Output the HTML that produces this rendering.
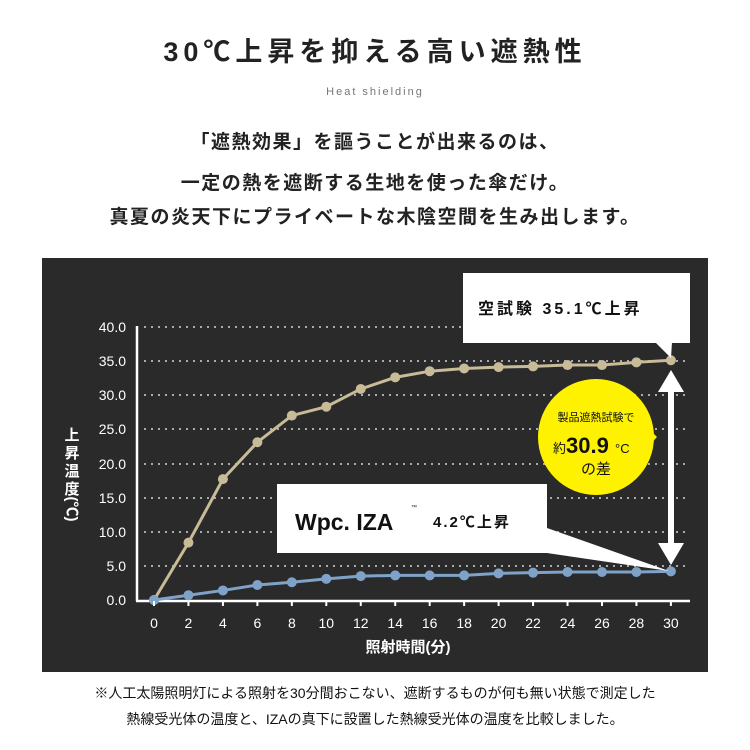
<!DOCTYPE html><html><head><meta charset="utf-8"><style>
body{margin:0;width:750px;height:750px;background:#fff;font-family:"Liberation Sans","Noto Sans CJK JP",sans-serif;position:relative;overflow:hidden;color:#222}
.t{position:absolute;left:0;width:750px;text-align:center;white-space:nowrap}
</style></head><body>
<div class="t" style="top:30px;font-size:27px;letter-spacing:5px;font-weight:bold">30℃上昇を抑える高い遮熱性</div>
<div class="t" style="top:86px;font-size:11px;letter-spacing:2px;color:#777">Heat shielding</div>
<div class="t" style="top:127px;font-size:19px;font-weight:bold;letter-spacing:1.5px">「遮熱効果」を謳うことが出来るのは、</div>
<div class="t" style="top:168px;font-size:19px;font-weight:bold;letter-spacing:1.5px">一定の熱を遮断する生地を使った傘だけ。</div>
<div class="t" style="top:202px;font-size:19px;font-weight:bold;letter-spacing:1.5px">真夏の炎天下にプライベートな木陰空間を生み出します。</div>
<svg style="position:absolute;left:0;top:0" width="750" height="750">
<rect x="42" y="258" width="666" height="414" fill="#2b2a2a"/>
<g stroke="#aaa" stroke-width="2" stroke-dasharray="2,5">
<line x1="144" y1="327" x2="690" y2="327"/><line x1="144" y1="361" x2="690" y2="361"/><line x1="144" y1="395" x2="690" y2="395"/><line x1="144" y1="429" x2="690" y2="429"/><line x1="144" y1="464" x2="690" y2="464"/><line x1="144" y1="498" x2="690" y2="498"/><line x1="144" y1="532" x2="690" y2="532"/><line x1="144" y1="566" x2="690" y2="566"/></g>
<g stroke="#fff" stroke-width="2.5"><line x1="137" y1="326" x2="137" y2="601"/><line x1="136" y1="601" x2="690" y2="601"/></g>
<g fill="#fff" font-size="14" text-anchor="end">
<text x="126" y="332">40.0</text><text x="126" y="366">35.0</text><text x="126" y="400">30.0</text><text x="126" y="434">25.0</text><text x="126" y="469">20.0</text><text x="126" y="503">15.0</text><text x="126" y="537">10.0</text><text x="126" y="571">5.0</text><text x="126" y="605">0.0</text></g>
<g fill="#fff" font-size="14" text-anchor="middle" id="xl"></g>
<text x="408" y="652" fill="#fff" font-size="15" font-weight="bold" text-anchor="middle">照射時間(分)</text>
<g fill="#fff" font-size="15" font-weight="bold" text-anchor="middle"><text x="72" y="440">上</text><text x="72" y="458">昇</text><text x="72" y="476">温</text><text x="72" y="494">度</text><text x="72" y="514" transform="rotate(90 72 509)">(℃)</text></g>
<polyline id="tan" fill="none" stroke="#c8bb98" stroke-width="3"/><g id="tanp" fill="#c8bb98"></g>
<polyline id="blu" fill="none" stroke="#7fa3c8" stroke-width="3"/><g id="blup" fill="#7fa3c8"></g>
<rect x="463" y="273" width="227" height="70" fill="#fff"/><polygon points="655,342 672,342 671,358" fill="#fff"/>
<text x="478" y="314" font-size="16" font-weight="bold" fill="#111" letter-spacing="3">空試験 35.1℃上昇</text>
<rect x="277" y="484" width="270" height="69" fill="#fff"/><polygon points="547,528 547,553 669,571" fill="#fff"/>
<text x="295" y="530" font-size="23" font-weight="bold" fill="#111">Wpc. IZA</text><text x="411" y="509" font-size="6" fill="#111">™</text>
<text x="433" y="527" font-size="15" font-weight="bold" fill="#111" letter-spacing="2">4.2℃上昇</text>
<circle cx="596" cy="437" r="58" fill="#fff200"/><polygon points="645,425 657,437 645,450" fill="#fff200"/>
<text x="596" y="421" font-size="11" fill="#111" text-anchor="middle">製品遮熱試験で</text>
<text x="553" y="453" font-size="13" fill="#111">約</text><text x="566" y="453" font-size="22" font-weight="bold" fill="#111">30.9</text><text x="615" y="453" font-size="13" fill="#111">°C</text>
<text x="596" y="474" font-size="15" fill="#111" text-anchor="middle">の差</text>
<rect x="668" y="390" width="6" height="155" fill="#fff"/>
<polygon points="658,392 671,370 684,392" fill="#fff"/><polygon points="658,543 671,565 684,543" fill="#fff"/>
</svg>
<div class="t" style="top:683px;font-size:14px;color:#111">※人工太陽照明灯による照射を30分間おこない、遮断するものが何も無い状態で測定した</div>
<div class="t" style="top:709px;font-size:14px;color:#111">熱線受光体の温度と、IZAの真下に設置した熱線受光体の温度を比較しました。</div>
<script>
var ns="http://www.w3.org/2000/svg";
function X(t){return 154+t*17.23}function Y(v){return 600-v*6.83}
var T=[0,8.4,17.7,23.1,27,28.3,30.9,32.6,33.5,33.9,34.1,34.2,34.4,34.4,34.8,35.1];
var B=[0,0.7,1.4,2.2,2.6,3.1,3.5,3.6,3.6,3.6,3.9,4,4.1,4.1,4.1,4.2];
function draw(d,l,g){var p=[];d.forEach(function(v,i){var x=X(i*2),y=Y(v);p.push(x+","+y);var c=document.createElementNS(ns,"circle");c.setAttribute("cx",x);c.setAttribute("cy",y);c.setAttribute("r",5);document.getElementById(g).appendChild(c)});document.getElementById(l).setAttribute("points",p.join(" "))}
draw(T,"tan","tanp");draw(B,"blu","blup");
var xl=document.getElementById("xl"),ax=document.querySelector("svg");
for(var i=0;i<=30;i+=2){var t=document.createElementNS(ns,"text");t.setAttribute("x",X(i));t.setAttribute("y",628);t.textContent=i;xl.appendChild(t);
var k=document.createElementNS(ns,"line");k.setAttribute("x1",X(i));k.setAttribute("x2",X(i));k.setAttribute("y1",601);k.setAttribute("y2",606);k.setAttribute("stroke","#fff");k.setAttribute("stroke-width","2");ax.appendChild(k)}
</script>
</body></html>
